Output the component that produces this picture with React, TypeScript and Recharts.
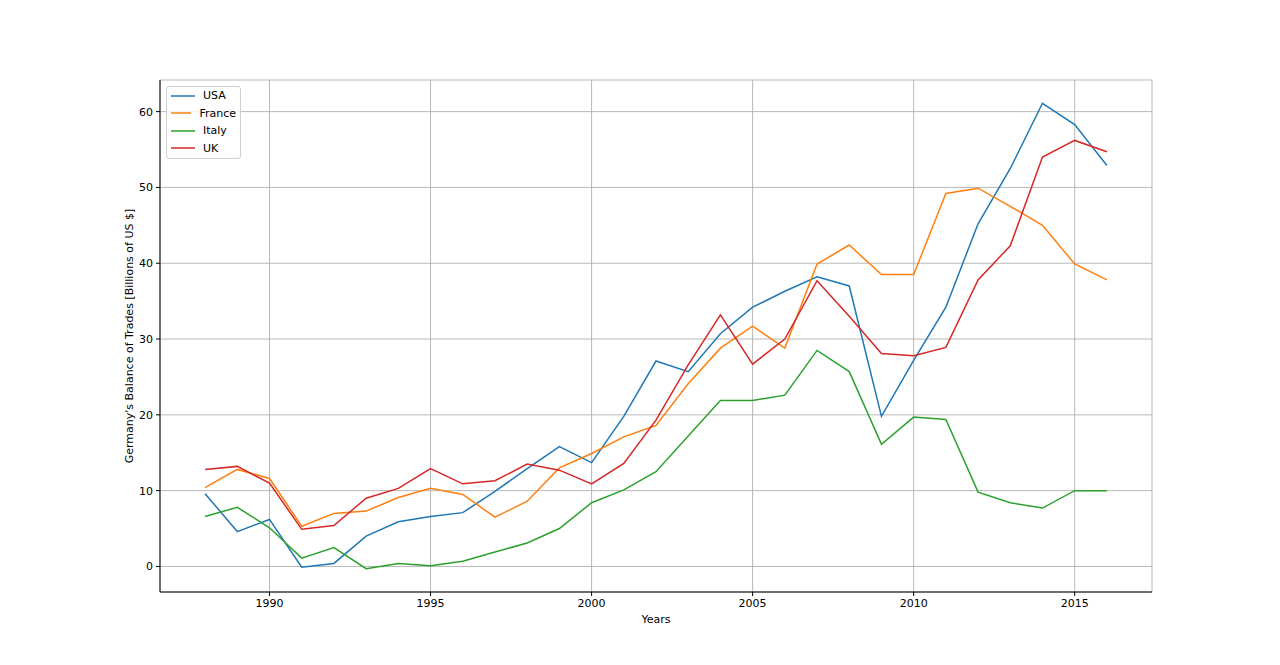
import React from 'react';
import { LineChart, Line, XAxis, YAxis, CartesianGrid } from 'recharts';

const years = [1988, 1989, 1990, 1991, 1992, 1993, 1994, 1995, 1996, 1997, 1998, 1999, 2000, 2001, 2002, 2003, 2004, 2005, 2006, 2007, 2008, 2009, 2010, 2011, 2012, 2013, 2014, 2015, 2016];
const usa = [9.6, 4.6, 6.2, -0.1, 0.4, 4.0, 5.9, 6.6, 7.1, 9.9, 12.9, 15.8, 13.7, 19.8, 27.1, 25.7, 30.7, 34.2, 36.3, 38.2, 37.0, 19.8, 27.2, 34.2, 45.2, 52.5, 61.1, 58.3, 52.9];
const france = [10.4, 12.8, 11.6, 5.3, 7.0, 7.3, 9.1, 10.3, 9.5, 6.5, 8.6, 13.0, 14.9, 17.1, 18.6, 24.1, 28.8, 31.7, 28.8, 39.9, 42.4, 38.5, 38.5, 49.2, 49.9, 47.5, 45.0, 39.9, 37.8];
const italy = [6.6, 7.8, 5.1, 1.1, 2.5, -0.3, 0.4, 0.1, 0.7, 1.9, 3.1, 5.0, 8.4, 10.1, 12.5, 17.2, 21.9, 21.9, 22.6, 28.5, 25.7, 16.1, 19.7, 19.4, 9.8, 8.4, 7.7, 10.0, 10.0];
const uk = [12.8, 13.2, 11.0, 4.9, 5.4, 9.0, 10.3, 12.9, 10.9, 11.3, 13.5, 12.7, 10.9, 13.6, 19.3, 26.6, 33.2, 26.7, 30.0, 37.7, 33.0, 28.1, 27.8, 28.9, 37.8, 42.3, 54.0, 56.2, 54.7];

const xTicks = [1990, 1995, 2000, 2005, 2010, 2015];
const yTicks = [0, 10, 20, 30, 40, 50, 60];

const series = [
  { key: 'USA', values: usa, color: '#1f77b4' },
  { key: 'France', values: france, color: '#ff7f0e' },
  { key: 'Italy', values: italy, color: '#2ca02c' },
  { key: 'UK', values: uk, color: '#d62728' },
];

const data = years.map((y, i) => {
  const row: Record<string, number> = { year: y };
  series.forEach((s) => { row[s.key] = s.values[i]; });
  return row;
});

const FONT = 'DejaVu Sans';
const tickStyle = { fill: '#000', fontSize: 11, fontFamily: FONT };

const LegendBox = () => (
  <div
    style={{
      position: 'absolute',
      left: 166,
      top: 86,
      width: 75,
      boxSizing: 'border-box',
      border: '1px solid #d0d0d0',
      borderRadius: 3,
      background: 'rgba(255,255,255,0.8)',
      padding: '0px 4px 1px 4px',
      fontFamily: FONT,
      fontSize: 11,
      color: '#000',
    }}
  >
    {series.map((s) => (
      <div key={s.key} style={{ display: 'flex', alignItems: 'center', height: 17.5 }}>
        <svg width={24} height={4} style={{ marginRight: 8 }}>
          <line x1={0} y1={2} x2={24} y2={2} stroke={s.color} strokeWidth={1.5} />
        </svg>
        <span>{s.key}</span>
      </div>
    ))}
  </div>
);

const YLabel = (props: any) => {
  const vb = props.viewBox;
  const x = vb.x + vb.width - 31;
  const y = vb.y + vb.height / 2;
  return (
    <text x={x} y={y} transform={`rotate(-90, ${x}, ${y})`} textAnchor="middle" dominantBaseline="central" fontSize={11} fontFamily={FONT} fill="#000">
      Germany's Balance of Trades [Billions of US $]
    </text>
  );
};

const XLabel = (props: any) => {
  const vb = props.viewBox;
  const x = vb.x + vb.width / 2;
  const y = vb.y + 27;
  return (
    <text x={x} y={y} textAnchor="middle" dominantBaseline="central" fontSize={11} fontFamily={FONT} fill="#000">
      Years
    </text>
  );
};

export default function App() {
  return (
    <div style={{ position: 'absolute', left: 0, top: 0, width: 1280, height: 665, background: '#fff' }}>
      <LineChart width={1280} height={665} data={data} margin={{ top: 80, right: 128, bottom: 23, left: 0 }}>
        <CartesianGrid stroke="#b0b0b0" strokeWidth={0.9} />
        <XAxis
          dataKey="year"
          type="number"
          domain={[1986.6, 2017.4]}
          ticks={xTicks}
          allowDataOverflow
          height={50}
          tick={tickStyle}
          tickSize={4}
          tickMargin={3}
          tickLine={{ stroke: '#000' }}
          axisLine={{ stroke: '#000' }}
          label={<XLabel />}
        />
        <XAxis xAxisId="top" orientation="top" type="number" domain={[1986.6, 2017.4]} allowDataOverflow height={0} tick={false} tickLine={false} axisLine={{ stroke: '#000' }} />
        <YAxis
          type="number"
          domain={[-3.37, 64.17]}
          ticks={yTicks}
          allowDataOverflow
          width={160}
          tick={tickStyle}
          tickSize={4}
          tickMargin={3}
          tickLine={{ stroke: '#000' }}
          axisLine={{ stroke: '#000' }}
          label={<YLabel />}
        />
        <YAxis yAxisId="right" orientation="right" type="number" domain={[-3.37, 64.17]} allowDataOverflow width={0} tick={false} tickLine={false} axisLine={{ stroke: '#000' }} />
        {series.map((s) => (
          <Line key={s.key} dataKey={s.key} stroke={s.color} strokeWidth={1.5} dot={false} activeDot={false} isAnimationActive={false} />
        ))}
      </LineChart>
      <LegendBox />
    </div>
  );
}
